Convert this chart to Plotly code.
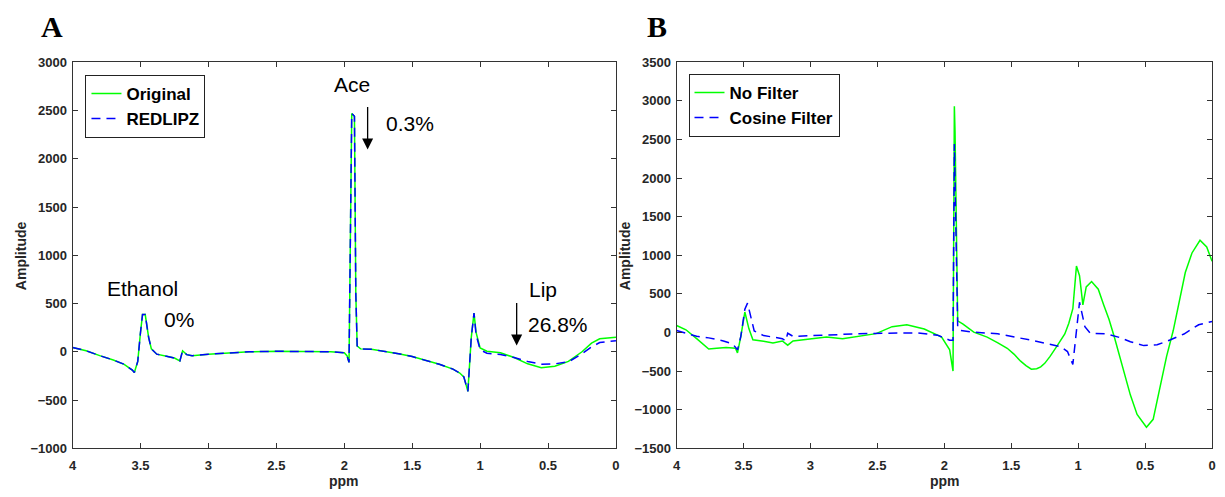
import plotly.graph_objects as go

# ---------------- Panel A data ----------------
a_ppm_original = [4.00, 3.90, 3.80, 3.70, 3.62, 3.56, 3.545, 3.52, 3.50, 3.485, 3.465, 3.44, 3.42,
                  3.38, 3.30, 3.25, 3.21, 3.19, 3.16, 3.12, 3.00, 2.85, 2.70, 2.50, 2.30, 2.10,
                  2.00, 1.98, 1.965, 1.945, 1.925, 1.915, 1.905, 1.88, 1.80, 1.70, 1.60, 1.50,
                  1.40, 1.30, 1.20, 1.15, 1.12, 1.09, 1.065, 1.045, 1.03, 1.00, 0.95, 0.90,
                  0.85, 0.75, 0.65, 0.55, 0.45, 0.35, 0.25, 0.18, 0.12, 0.00]
a_original = [45, 10, -40, -85, -130, -190, -215, -100, 200, 385, 385, 150, 30,
              -25, -50, -65, -95, 10, -30, -40, -25, -15, 0, 5, 5, 0,
              -10, -40, -110, 2470, 2440, 600, 60, 30, 25, 5, -20, -50,
              -90, -130, -180, -220, -260, -410, 150, 400, 200, 40, 5, 0,
              -10, -60, -125, -165, -150, -100, 0, 90, 135, 150]

a_ppm_redlipz = [4.00, 3.90, 3.80, 3.70, 3.62, 3.56, 3.545, 3.52, 3.50, 3.485, 3.465, 3.44, 3.42,
                 3.38, 3.30, 3.25, 3.21, 3.19, 3.16, 3.12, 3.00, 2.85, 2.70, 2.50, 2.30, 2.10,
                 2.00, 1.98, 1.965, 1.945, 1.925, 1.915, 1.905, 1.88, 1.80, 1.70, 1.60, 1.50,
                 1.40, 1.30, 1.20, 1.15, 1.12, 1.09, 1.065, 1.045, 1.03, 1.00, 0.95, 0.90,
                 0.85, 0.75, 0.65, 0.55, 0.45, 0.35, 0.25, 0.18, 0.12, 0.00]
a_redlipz = [45, 10, -40, -85, -130, -190, -215, -100, 200, 385, 385, 150, 30,
             -25, -50, -65, -95, 10, -30, -40, -25, -15, 0, 5, 5, 0,
             -10, -40, -110, 2470, 2440, 600, 60, 30, 25, 5, -20, -50,
             -90, -130, -180, -220, -260, -410, 150, 400, 180, 20, -15, -20,
             -28, -60, -100, -130, -125, -105, -20, 50, 95, 115]

# ---------------- Panel B data ----------------
b_ppm_nofilter = [4.00, 3.93, 3.85, 3.76, 3.70, 3.63, 3.56, 3.545, 3.52, 3.49, 3.46, 3.43,
                  3.35, 3.28, 3.21, 3.17, 3.13, 3.00, 2.88, 2.76, 2.65, 2.51, 2.39, 2.28,
                  2.15, 2.02, 1.96, 1.935, 1.925, 1.92, 1.90, 1.86, 1.78, 1.68, 1.60, 1.53,
                  1.48, 1.43, 1.39, 1.35, 1.31, 1.28, 1.25, 1.21, 1.16, 1.10, 1.07, 1.04,
                  1.013, 0.99, 0.965, 0.94, 0.90, 0.85, 0.81, 0.77, 0.73, 0.67, 0.61, 0.56,
                  0.49, 0.44, 0.39, 0.34, 0.29, 0.24, 0.20, 0.15, 0.09, 0.04, 0.00]
b_nofilter = [90, 35, -80, -215, -205, -195, -205, -265, -50, 265, 50, -95,
              -115, -135, -110, -165, -110, -80, -60, -80, -55, -15, 75, 100,
              45, -60, -225, -500, 2930, 2600, 150, 108, 4, -60, -134, -205,
              -280, -372, -430, -476, -470, -445, -400, -310, -180, -20, 120, 308,
              860, 735, 358, 590, 660, 560, 358, 170, -59, -435, -811, -1061,
              -1228, -1125, -727, -313, 25, 442, 777, 1030, 1194, 1107, 922]

b_ppm_cosine = [4.00, 3.85, 3.76, 3.65, 3.58, 3.545, 3.52, 3.49, 3.47, 3.45, 3.42, 3.35,
                3.21, 3.185, 3.17, 3.13, 3.00, 2.88, 2.64, 2.40, 2.20, 2.05, 1.96, 1.935,
                1.925, 1.90, 1.88, 1.78, 1.60, 1.35, 1.13, 1.08, 1.04, 0.99, 0.95, 0.91,
                0.79, 0.70, 0.61, 0.51, 0.41, 0.31, 0.21, 0.10, 0.00]
b_cosine = [25, -50, -70, -110, -150, -225, -50, 300, 380, 250, 20, -40,
            -80, -110, -10, -50, -45, -35, -15, -5, -5, -35, -100, -100,
            2440, 60, 25, 5, -18, -100, -184, -247, -414, 392, 75, -9,
            -18, -60, -120, -170, -160, -95, -20, 100, 142]

x_tickvals = [4, 3.5, 3, 2.5, 2, 1.5, 1, 0.5, 0]
x_ticktext = ["4", "3.5", "3", "2.5", "2", "1.5", "1", "0.5", "0"]
a_yticks = list(range(-1000, 3001, 500))
b_yticks = list(range(-1500, 3501, 500))

W, H = 1225, 497
GREEN = "rgb(0,255,0)"
BLUE = "rgb(0,0,255)"
AXC = "#333333"
FONT = "Liberation Sans"


def px(x):
    return x / W


def py(y):
    return 1 - y / H


fig = go.Figure()
fig.add_trace(go.Scatter(x=a_ppm_original, y=a_original, mode="lines", name="Original",
                         line=dict(color=GREEN, width=1.5), xaxis="x", yaxis="y", legend="legend"))
fig.add_trace(go.Scatter(x=a_ppm_redlipz, y=a_redlipz, mode="lines", name="REDLIPZ",
                         line=dict(color=BLUE, width=1.5, dash="9px,6px"), xaxis="x", yaxis="y",
                         legend="legend"))
fig.add_trace(go.Scatter(x=b_ppm_nofilter, y=b_nofilter, mode="lines", name="No Filter",
                         line=dict(color=GREEN, width=1.5), xaxis="x2", yaxis="y2", legend="legend2"))
fig.add_trace(go.Scatter(x=b_ppm_cosine, y=b_cosine, mode="lines", name="Cosine Filter",
                         line=dict(color=BLUE, width=1.5, dash="9px,6px"), xaxis="x2", yaxis="y2",
                         legend="legend2"))

tickfont = dict(family=FONT, size=13, color="#262626", weight="bold")
common_x = dict(range=[4, 0], tickvals=x_tickvals, ticktext=x_ticktext, ticks="inside", ticklen=5,
                tickcolor=AXC, showline=True, linecolor=AXC, linewidth=1, mirror="ticks",
                showgrid=False, zeroline=False, tickfont=tickfont, ticklabelstandoff=5)
common_y = dict(ticks="inside", ticklen=5, tickcolor=AXC, showline=True, linecolor=AXC, linewidth=1,
                mirror="ticks", showgrid=False, zeroline=False, tickfont=tickfont, ticklabelstandoff=2)

ydom = [py(455), py(57)]
legfont = dict(family=FONT, size=17, color="black", weight="bold")
fig.update_layout(
    width=W, height=H, margin=dict(l=0, r=0, t=0, b=0),
    paper_bgcolor="white", plot_bgcolor="white",
    xaxis=dict(domain=[px(69), px(616)], anchor="y", **common_x),
    yaxis=dict(domain=ydom, anchor="x", range=[-1000, 3000], tickvals=a_yticks, **common_y),
    xaxis2=dict(domain=[px(677), px(1216)], anchor="y2", **common_x),
    yaxis2=dict(domain=ydom, anchor="x2", range=[-1500, 3500], tickvals=b_yticks, **common_y),
    legend=dict(x=px(82), y=py(70), xanchor="left", yanchor="top", bgcolor="white",
                bordercolor="#222222", borderwidth=1, itemwidth=30, tracegroupgap=0,
                font=legfont),
    legend2=dict(x=px(689), y=py(69), xanchor="left", yanchor="top", bgcolor="white",
                 bordercolor="#222222", borderwidth=1, itemwidth=30, tracegroupgap=0,
                 font=legfont),
    showlegend=True,
)

ann = []
# panel letters
for txt, cx in (("A", 48), ("B", 657)):
    ann.append(dict(text=txt, x=px(cx), y=py(20), xref="paper", yref="paper", showarrow=False,
                    xanchor="center", yanchor="middle",
                    font=dict(family="Liberation Serif", size=30, color="black", weight="bold")))
# axis titles
for cx in (17, 625):
    ann.append(dict(text="Amplitude", x=px(cx), y=py(256), xref="paper", yref="paper", showarrow=False,
                    textangle=-90, xanchor="center", yanchor="middle",
                    font=dict(family=FONT, size=14, color="#262626", weight="bold")))
for cx in (342, 947):
    ann.append(dict(text="ppm", x=px(cx), y=py(489), xref="paper", yref="paper", showarrow=False,
                    xanchor="center", yanchor="middle",
                    font=dict(family=FONT, size=14, color="#262626", weight="bold")))
# peak labels in panel A
labels = [("Ace", 350, 80), ("0.3%", 409, 120), ("Ethanol", 139, 290), ("0%", 176, 322),
          ("Lip", 543, 291), ("26.8%", 558, 327)]
for txt, cx, cy in labels:
    ann.append(dict(text=txt, x=px(cx), y=py(cy), xref="paper", yref="paper", showarrow=False,
                    xanchor="center", yanchor="middle",
                    font=dict(family=FONT, size=21, color="black")))
# arrows (head positions in data coords of panel A)
for hx, hy in ((1.828, 2095), (0.731, 65)):
    ann.append(dict(text="", x=hx, y=hy, xref="x", yref="y", ax=0, ay=-44, axref="pixel",
                    ayref="pixel", showarrow=True, arrowhead=2, arrowsize=1.7, arrowwidth=1.3,
                    arrowcolor="black"))
fig.update_layout(annotations=ann)

fig.write_html("out.html")
